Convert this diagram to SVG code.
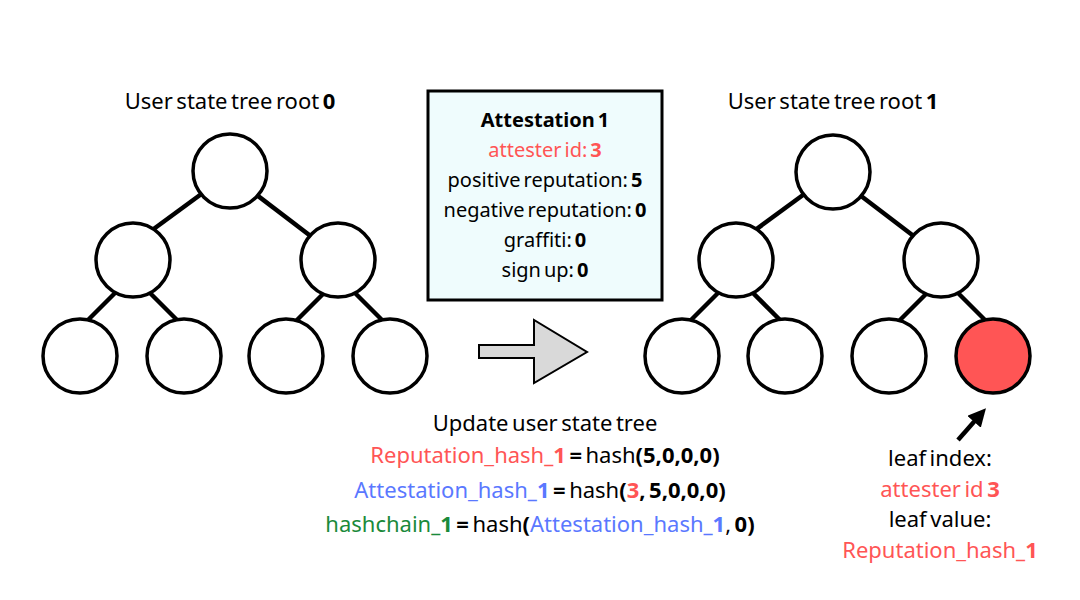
<svg xmlns="http://www.w3.org/2000/svg" width="1080" height="600" viewBox="0 0 1080 600">
<defs>
<style>
text{font-family:"Noto Sans","Open Sans","DejaVu Sans",sans-serif;font-size:22px;fill:#000;text-anchor:middle;word-spacing:-2.2px}
.s{font-size:20px}
.b{font-weight:bold}
.r{fill:#ff5555}
.bl{fill:#5a78ff}
.g{fill:#1a8a3a}
.node{fill:#fff;stroke:#000;stroke-width:3.5}
.leafred{fill:#ff5555;stroke:#000;stroke-width:3.5}
.edge{stroke:#000;stroke-width:4.5;fill:none}
</style>
<marker id="ah" viewBox="0 0 10 10" refX="5" refY="5" markerWidth="4" markerHeight="4" orient="auto">
<path d="M0,0 L10,5 L0,10 z" fill="#000"/>
</marker>
</defs>
<rect width="1080" height="600" fill="#fff"/>

<g id="connectors">
<line class="edge" x1="215" y1="184" x2="140" y2="239"/>
<line class="edge" x1="245" y1="186" x2="325" y2="247"/>
<line class="edge" x1="125" y1="283" x2="85" y2="323"/>
<line class="edge" x1="141" y1="284" x2="180" y2="323"/>
<line class="edge" x1="330" y1="287" x2="290" y2="327"/>
<line class="edge" x1="346" y1="284" x2="385" y2="323"/>
<line class="edge" x1="818" y1="184" x2="743" y2="239"/>
<line class="edge" x1="848" y1="186" x2="928" y2="247"/>
<line class="edge" x1="728" y1="283" x2="688" y2="323"/>
<line class="edge" x1="744" y1="284" x2="783" y2="323"/>
<line class="edge" x1="933" y1="287" x2="893" y2="327"/>
<line class="edge" x1="949" y1="284" x2="988" y2="323"/>
<line x1="958" y1="440" x2="980" y2="415" stroke="#000" stroke-width="4.5" marker-end="url(#ah)"/>
</g>

<g id="tree0">
<text x="230" y="109">User state tree root <tspan class="b">0</tspan></text>
<circle id="t0-root" class="node" cx="230" cy="171" r="37"/>
<circle id="t0-l" class="node" cx="133" cy="260" r="37"/>
<circle id="t0-r" class="node" cx="338" cy="260" r="37"/>
<circle id="t0-a" class="node" cx="80" cy="356" r="37"/>
<circle id="t0-b" class="node" cx="184" cy="356" r="37"/>
<circle id="t0-c" class="node" cx="286" cy="356" r="37"/>
<circle id="t0-d" class="node" cx="390" cy="356" r="37"/>
</g>

<g id="tree1">
<text x="833" y="109">User state tree root <tspan class="b">1</tspan></text>
<circle id="t1-root" class="node" cx="833" cy="172" r="37"/>
<circle id="t1-l" class="node" cx="736" cy="260" r="37"/>
<circle id="t1-r" class="node" cx="941" cy="260" r="37"/>
<circle id="t1-a" class="node" cx="682" cy="356" r="37"/>
<circle id="t1-b" class="node" cx="785" cy="356" r="37"/>
<circle id="t1-c" class="node" cx="889" cy="356" r="37"/>
<circle id="t1-d" class="leafred" cx="993" cy="356" r="37"/>
</g>

<g id="attestation">
<rect x="428" y="91" width="234" height="209" fill="#effcfd" stroke="#000" stroke-width="3"/>
<text x="545" y="127" class="s b">Attestation 1</text>
<text x="545" y="157" class="s r">attester id: <tspan class="b">3</tspan></text>
<text x="545" y="187" class="s">positive reputation: <tspan class="b">5</tspan></text>
<text x="545" y="217" class="s">negative reputation: <tspan class="b">0</tspan></text>
<text x="545" y="247" class="s">graffiti: <tspan class="b">0</tspan></text>
<text x="545" y="277" class="s">sign up: <tspan class="b">0</tspan></text>
</g>

<g id="arrow">
<polygon points="479,345 534,345 534,320 587,352 534,383 534,358 479,358" fill="#d9d9d9" stroke="#000" stroke-width="2"/>
</g>

<g id="update">
<text x="545" y="431">Update user state tree</text>
<text x="545" y="463"><tspan class="r">Reputation_hash<tspan class="b">_1</tspan></tspan> <tspan class="b">=</tspan> hash<tspan class="b">(5,0,0,0)</tspan></text>
<text x="540" y="498"><tspan class="bl">Attestation_hash<tspan class="b">_1</tspan></tspan> <tspan class="b">=</tspan> hash<tspan class="b">(<tspan class="r">3</tspan>, 5,0,0,0)</tspan></text>
<text x="540" y="532"><tspan class="g">hashchain<tspan class="b">_1</tspan></tspan> <tspan class="b">=</tspan> hash<tspan class="b">(</tspan><tspan class="bl">Attestation_hash<tspan class="b">_1</tspan></tspan>, <tspan class="b">0)</tspan></text>
</g>

<g id="leaf-label">
<text x="940" y="466">leaf index:</text>
<text x="940" y="497" class="r">attester id <tspan class="b">3</tspan></text>
<text x="940" y="527">leaf value:</text>
<text x="940" y="558" class="r">Reputation_hash<tspan class="b">_1</tspan></text>
</g>
</svg>
